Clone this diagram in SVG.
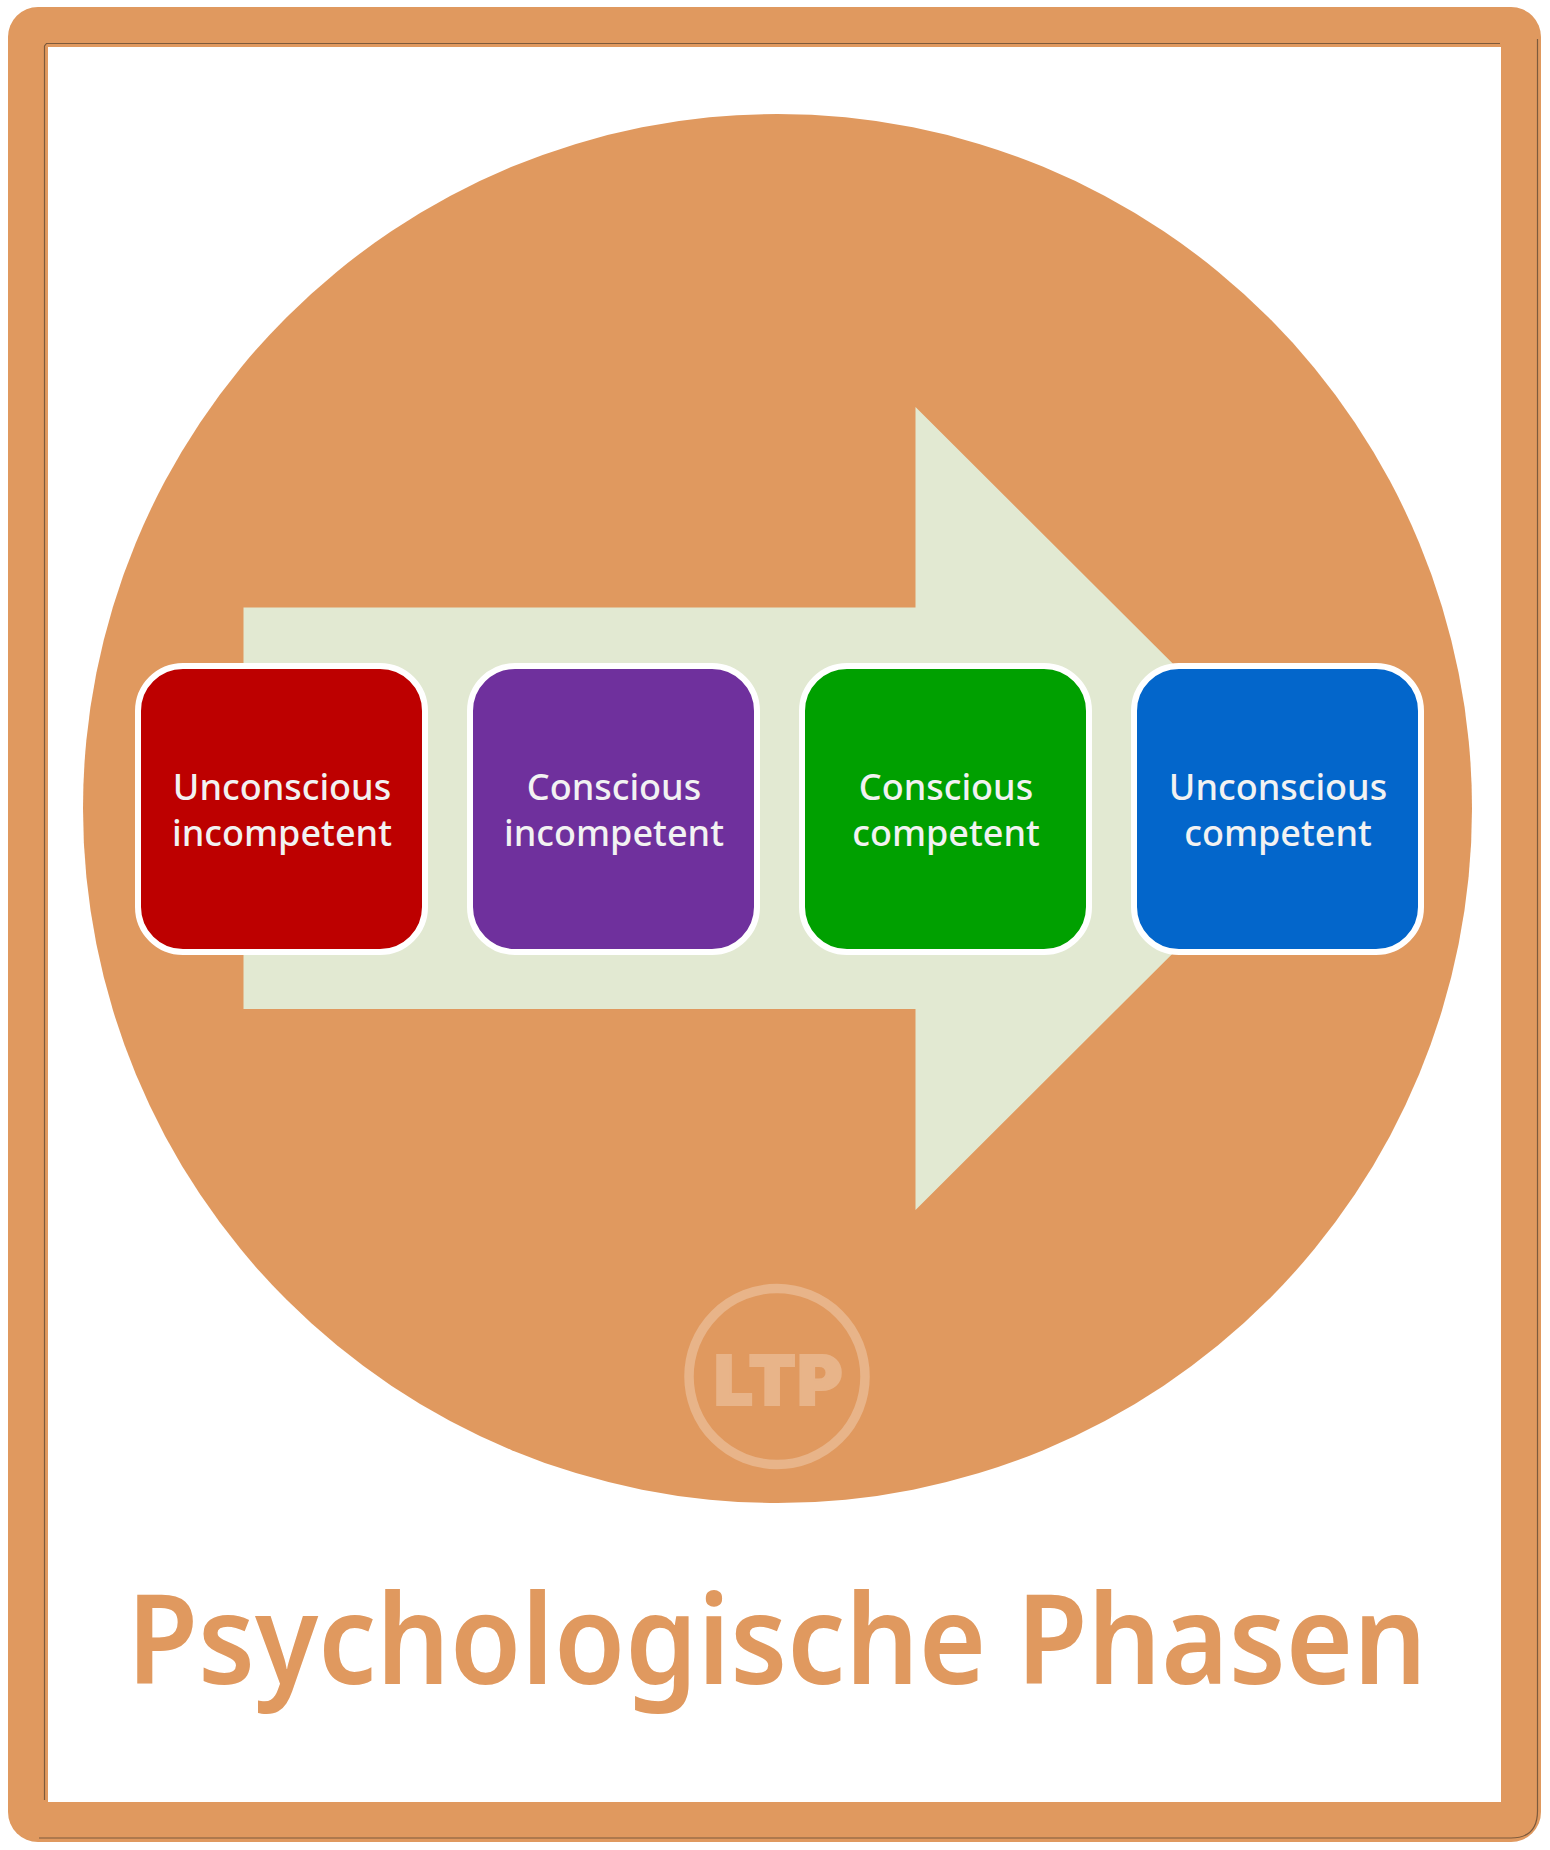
<svg xmlns="http://www.w3.org/2000/svg" width="1550" height="1850" viewBox="0 0 1550 1850">
<style>
.lbl{font-family:"Noto Sans","Open Sans",sans-serif;font-size:36px;font-weight:500;fill:#f2f2f2;text-anchor:middle}
.box{stroke:#fff;stroke-width:6}
.edge{fill:none;stroke:#7d5a3c;stroke-width:1.2}
</style>
<rect width="1550" height="1850" fill="#fff"/>
<g id="frame">
<rect x="8" y="7" width="1533" height="1835" rx="30" fill="#e0995f"/>
<rect x="48" y="47" width="1453" height="1755" fill="#fff"/>
<path class="edge" d="M44.5 1800V46L46.500 43.500H1500"/>
<path class="edge" d="M1537.500 39V1811Q1537.500 1838 1511 1838H39"/>
</g>
<circle id="disc" cx="777.500" cy="808.500" r="694.500" fill="#e0995f"/>
<polygon id="arrow" points="243.500,607.500 915.500,607.500 915.500,407 1318,808.500 915.500,1210 915.500,1009 243.500,1009" fill="#e2e9d2"/>
<g id="node1"><rect class="box" x="138" y="666" width="287" height="286" rx="45" fill="#bd0000"/><text class="lbl"><tspan x="282" y="800">Unconscious</tspan><tspan x="282" y="846">incompetent</tspan></text></g>
<g id="node2"><rect class="box" x="470" y="666" width="287" height="286" rx="45" fill="#6f309d"/><text class="lbl"><tspan x="614" y="800">Conscious</tspan><tspan x="614" y="846">incompetent</tspan></text></g>
<g id="node3"><rect class="box" x="802" y="666" width="287" height="286" rx="45" fill="#00a000"/><text class="lbl"><tspan x="946" y="800">Conscious</tspan><tspan x="946" y="846">competent</tspan></text></g>
<g id="node4"><rect class="box" x="1134" y="666" width="287" height="286" rx="45" fill="#0366cb"/><text class="lbl"><tspan x="1278" y="800">Unconscious</tspan><tspan x="1278" y="846">competent</tspan></text></g>
<g id="logo">
<circle cx="777" cy="1376.500" r="88" fill="none" stroke="#e8b489" stroke-width="9.500"/>
<text x="779" y="1405" text-anchor="middle" style="font-family:Inter,'Noto Sans',sans-serif;font-size:69px;font-weight:900;letter-spacing:1.5px;fill:#e8b489;stroke:#e8b489;stroke-width:2">LTP</text>
</g>
<text id="title" x="127" y="1684" textLength="1300" lengthAdjust="spacingAndGlyphs" style="font-family:'Noto Sans','Open Sans',sans-serif;font-size:125px;font-weight:600;fill:#e0995f">Psychologische Phasen</text>
</svg>
